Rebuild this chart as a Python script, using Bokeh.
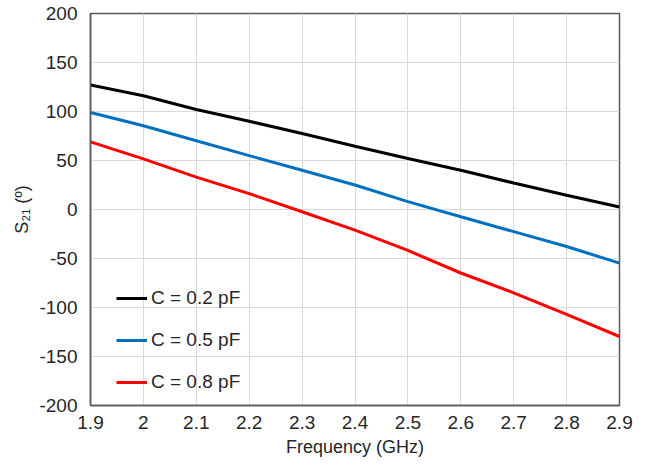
from bokeh.plotting import figure
from bokeh.models import Range1d, FixedTicker, Legend, LegendItem
from bokeh.embed import file_html
from bokeh.resources import INLINE

freq = [1.9, 2.0, 2.1, 2.2, 2.3, 2.4, 2.5, 2.6, 2.7, 2.8, 2.9]
s21_c02 = [127, 116, 102, 90, 77.6, 64.5, 52, 40, 27, 14.6, 2.5]
s21_c05 = [99, 85.4, 70.2, 55, 40, 25, 8, -7.4, -22.6, -37.8, -54.7]
s21_c08 = [69, 51.6, 33, 16.2, -2.3, -21, -41.8, -64.8, -85, -107, -129.6]
labels = ["C = 0.2 pF", "C = 0.5 pF", "C = 0.8 pF"]
colors = ["#000000", "#0070C0", "#FF0000"]
x_ticks = [1.9, 2.0, 2.1, 2.2, 2.3, 2.4, 2.5, 2.6, 2.7, 2.8, 2.9]
y_ticks = [-200, -150, -100, -50, 0, 50, 100, 150, 200]

FONT = "Liberation Sans"

p = figure(width=636, height=459, output_backend="svg", toolbar_location=None,
           x_range=Range1d(1.9, 2.9), y_range=Range1d(-200, 200),
           min_border_left=90, min_border_right=17, min_border_top=13, min_border_bottom=52)

p.outline_line_color = "#595959"
p.outline_line_width = 1.5

for ax in (p.xaxis[0], p.yaxis[0]):
    ax.axis_line_color = "#595959"
    ax.axis_line_width = 1.5
    ax.major_tick_out = 0
    ax.major_tick_in = 0
    ax.minor_tick_out = 0
    ax.minor_tick_in = 0
    ax.major_label_text_font = FONT
    ax.major_label_text_font_size = "19px"
    ax.major_label_text_color = "#262626"
    ax.axis_label_text_font = FONT
    ax.axis_label_text_font_size = "18px"
    ax.axis_label_text_font_style = "normal"
    ax.axis_label_text_color = "#262626"

p.xaxis.ticker = FixedTicker(ticks=x_ticks)
p.yaxis.ticker = FixedTicker(ticks=y_ticks)
p.xaxis.major_label_overrides = {t: ("2" if t == 2.0 else f"{t:g}") for t in x_ticks}
p.yaxis.major_label_overrides = {t: str(t) for t in y_ticks}
p.xaxis.major_label_standoff = 10
p.yaxis.major_label_standoff = 13
p.xaxis.axis_label = "Frequency (GHz)"
p.yaxis.axis_label = "S\u2082\u2081 (\u00ba)"
p.xaxis.axis_label_standoff = 5
p.yaxis.axis_label_standoff = 4

p.grid.grid_line_color = "#d9d9d9"
p.grid.grid_line_width = 1

renderers = []
for ys, c in zip([s21_c02, s21_c05, s21_c08], colors):
    r = p.line(freq, ys, line_color=c, line_width=3)
    renderers.append(r)

legend = Legend(items=[LegendItem(label=l, renderers=[r]) for l, r in zip(labels, renderers)],
                location=(26, 12), border_line_color=None, background_fill_alpha=0,
                label_text_font=FONT, label_text_font_size="19px", label_text_color="#262626",
                glyph_width=31, glyph_height=20, label_height=20, spacing=20,
                label_standoff=4, padding=5, margin=0)
p.add_layout(legend)

open("out.html", "w").write(file_html(p, INLINE))
